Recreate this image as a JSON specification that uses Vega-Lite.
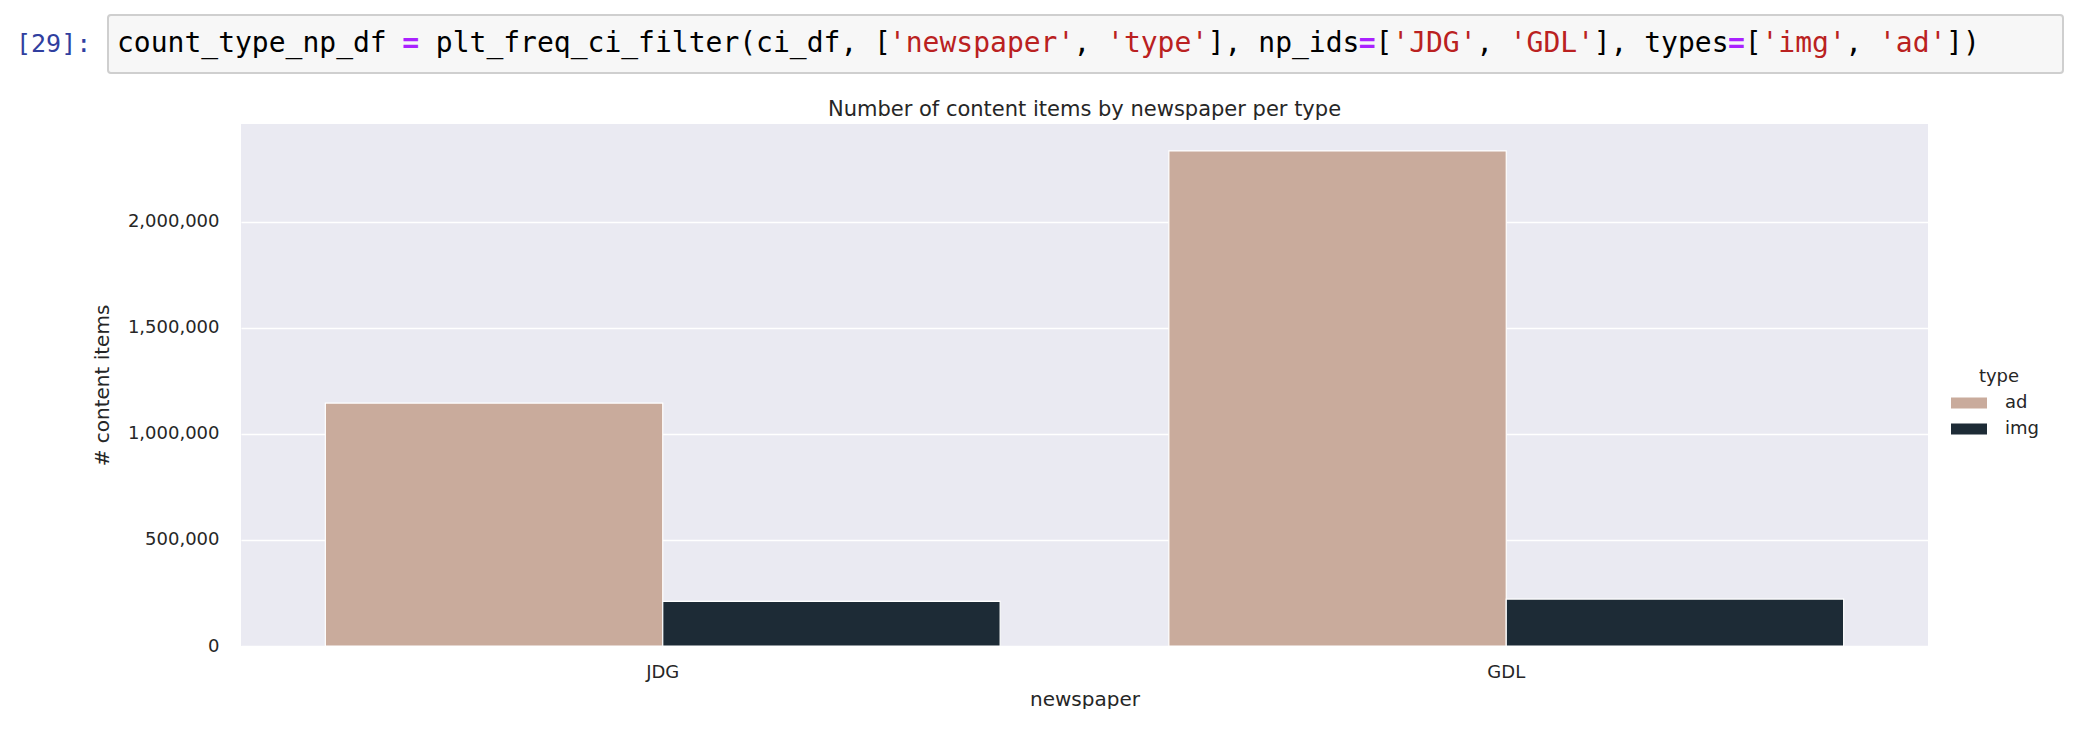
{
  "$schema": "https://vega.github.io/schema/vega-lite/v6.json",
  "padding": {"left": 15, "top": 14, "right": 0, "bottom": 0},
  "background": "white",
  "spacing": 25,
  "config": {
    "font": "DejaVu Sans",
    "axis": {
      "domain": false,
      "ticks": false,
      "tickSize": 0,
      "labelFont": "DejaVu Sans",
      "labelFontSize": 18,
      "labelColor": "#262626",
      "titleFont": "DejaVu Sans",
      "titleFontSize": 20,
      "titleColor": "#262626",
      "titleFontWeight": "normal",
      "gridColor": "#ffffff",
      "gridWidth": 1.6
    }
  },
  "resolve": {"scale": {"x": "independent", "y": "independent", "color": "independent"}},
  "vconcat": [
    {
      "width": 1822,
      "height": 58,
      "view": {"fill": null, "stroke": null},
      "data": {
        "values": [
          {"token": "count_type_np_df", "kind": "plain", "col": 0},
          {"token": "=", "kind": "op", "col": 17},
          {"token": "plt_freq_ci_filter(ci_df, [", "kind": "plain", "col": 19},
          {"token": "'newspaper'", "kind": "string", "col": 46},
          {"token": ",", "kind": "plain", "col": 57},
          {"token": "'type'", "kind": "string", "col": 59},
          {"token": "], np_ids", "kind": "plain", "col": 65},
          {"token": "=", "kind": "op", "col": 74},
          {"token": "[", "kind": "plain", "col": 75},
          {"token": "'JDG'", "kind": "string", "col": 76},
          {"token": ",", "kind": "plain", "col": 81},
          {"token": "'GDL'", "kind": "string", "col": 83},
          {"token": "], types", "kind": "plain", "col": 88},
          {"token": "=", "kind": "op", "col": 96},
          {"token": "[", "kind": "plain", "col": 97},
          {"token": "'img'", "kind": "string", "col": 98},
          {"token": ",", "kind": "plain", "col": 103},
          {"token": "'ad'", "kind": "string", "col": 105},
          {"token": "])", "kind": "plain", "col": 109}
        ]
      },
      "layer": [
        {
          "data": {"values": [{"cell": "code"}]},
          "mark": {"type": "rect", "fill": "#f7f7f7", "stroke": "#cfcfcf", "strokeWidth": 2, "cornerRadius": 3},
          "encoding": {
            "x": {"datum": -0.536, "type": "quantitative", "scale": {"domain": [7.39, 115.97], "nice": false, "zero": false}, "axis": null},
            "x2": {"datum": 115.97},
            "y": {"datum": 0, "type": "quantitative", "scale": {"domain": [0, 1], "nice": false, "zero": false}, "axis": null},
            "y2": {"datum": 1}
          }
        },
        {
          "data": {"values": [{"prompt": "[29]:"}]},
          "mark": {"type": "text", "align": "left", "baseline": "middle", "font": "DejaVu Sans Mono", "fontSize": 25, "color": "#303f9f"},
          "encoding": {
            "x": {"datum": -6.02, "type": "quantitative"},
            "y": {"datum": 0.5, "type": "quantitative"},
            "text": {"field": "prompt"}
          }
        },
        {
          "transform": [{"filter": "datum.kind === 'plain'"}],
          "mark": {"type": "text", "align": "left", "baseline": "middle", "font": "DejaVu Sans Mono", "fontSize": 28, "color": "#000000"},
          "encoding": {
            "x": {"field": "col", "type": "quantitative"},
            "y": {"datum": 0.5, "type": "quantitative"},
            "text": {"field": "token"}
          }
        },
        {
          "transform": [{"filter": "datum.kind === 'string'"}],
          "mark": {"type": "text", "align": "left", "baseline": "middle", "font": "DejaVu Sans Mono", "fontSize": 28, "color": "#ba2121"},
          "encoding": {
            "x": {"field": "col", "type": "quantitative"},
            "y": {"datum": 0.5, "type": "quantitative"},
            "text": {"field": "token"}
          }
        },
        {
          "transform": [{"filter": "datum.kind === 'op'"}],
          "mark": {"type": "text", "align": "left", "baseline": "middle", "font": "DejaVu Sans Mono", "fontSize": 28, "fontWeight": "bold", "color": "#aa22ff"},
          "encoding": {
            "x": {"field": "col", "type": "quantitative"},
            "y": {"datum": 0.5, "type": "quantitative"},
            "text": {"field": "token"}
          }
        }
      ]
    },
    {
      "width": 1687,
      "height": 522,
      "view": {"fill": "#eaeaf2", "stroke": null},
      "title": {
        "text": "Number of content items by newspaper per type",
        "font": "DejaVu Sans",
        "fontSize": 21,
        "fontWeight": "normal",
        "color": "#262626",
        "offset": 4
      },
      "data": {
        "values": [
          {"newspaper": "JDG", "type": "ad", "count": 1145000},
          {"newspaper": "JDG", "type": "img", "count": 210000},
          {"newspaper": "GDL", "type": "ad", "count": 2333000},
          {"newspaper": "GDL", "type": "img", "count": 221000}
        ]
      },
      "mark": {"type": "bar", "stroke": "#ffffff", "strokeWidth": 1.2},
      "encoding": {
        "x": {
          "field": "newspaper",
          "type": "nominal",
          "sort": ["JDG", "GDL"],
          "scale": {"paddingInner": 0.2, "paddingOuter": 0.1},
          "axis": {"title": "newspaper", "labelAngle": 0, "grid": false, "labelPadding": 17, "titlePadding": 8}
        },
        "xOffset": {
          "field": "type",
          "sort": ["ad", "img"],
          "scale": {"paddingInner": 0, "paddingOuter": 0}
        },
        "y": {
          "field": "count",
          "type": "quantitative",
          "scale": {"domain": [0, 2460000], "nice": false},
          "axis": {
            "title": "# content items",
            "values": [0, 500000, 1000000, 1500000, 2000000],
            "format": ",d",
            "grid": true,
            "labelPadding": 22,
            "titlePadding": 15
          }
        },
        "color": {
          "field": "type",
          "type": "nominal",
          "scale": {"domain": ["ad", "img"], "range": ["#c9ab9c", "#1d2b36"]},
          "legend": {
            "title": "type",
            "orient": "none",
            "legendX": 1719,
            "legendY": 244,
            "padding": 0,
            "symbolType": "M-2,-0.6H2V0.6H-2Z",
            "symbolSize": 324,
            "symbolStrokeWidth": 0,
            "symbolOpacity": 1,
            "labelFont": "DejaVu Sans",
            "labelFontSize": 18,
            "labelColor": "#262626",
            "labelOffset": 27,
            "titleFont": "DejaVu Sans",
            "titleFontSize": 18,
            "titleFontWeight": "normal",
            "titleColor": "#262626",
            "titlePadding": 8,
            "titleAnchor": "middle",
            "rowPadding": 8
          }
        }
      }
    }
  ]
}
